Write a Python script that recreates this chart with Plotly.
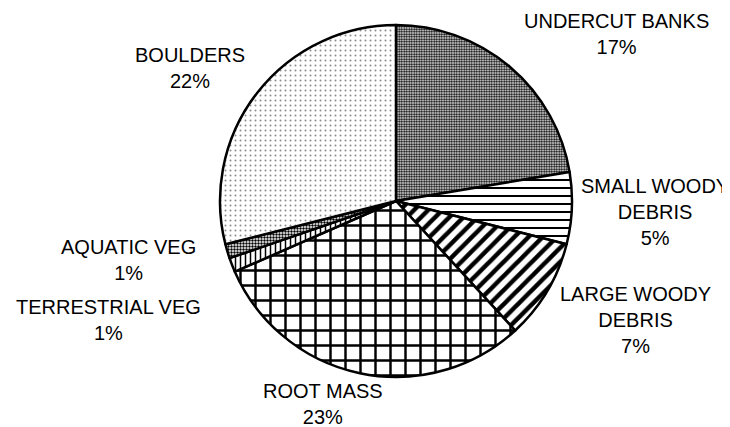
import plotly.graph_objects as go

categories = ["UNDERCUT BANKS", "SMALL WOODY<br>DEBRIS", "LARGE WOODY<br>DEBRIS",
              "ROOT MASS", "TERRESTRIAL VEG", "AQUATIC VEG", "BOULDERS"]
values = [17, 5, 7, 23, 1, 1, 22]
pct_labels = ["17%", "5%", "7%", "23%", "1%", "1%", "22%"]

# label centre positions in pixels (x, y from top)
label_pos = [(608, 26), (647, 204), (627, 312), (315, 396), (101, 312), (120, 252), (182, 60)]

shapes = [".", "-", "/", "+", "|", ".", "."]
fgcolors = ["black", "black", "black", "black", "black", "black", "#8a8a8a"]
sizes = [2.5, 8, 10, 15, 5, 3, 5]
solidities = [0.55, 0.25, 0.45, 0.3, 0.3, 0.5, 0.12]

W, H = 730, 427
cx, cy, r = 388, 193, 176
FONT = "Liberation Sans, Arial, sans-serif"

fig = go.Figure(go.Pie(
    labels=categories,
    values=values,
    textinfo="none",
    sort=False,
    direction="clockwise",
    rotation=0,
    showlegend=False,
    hoverinfo="label+value",
    marker=dict(
        colors=["white"] * len(values),
        line=dict(color="black", width=2.5),
        pattern=dict(shape=shapes, fgcolor=fgcolors, bgcolor=["white"] * len(values),
                     size=sizes, solidity=solidities, fillmode="replace"),
    ),
    domain=dict(x=[(cx - r) / W, (cx + r) / W], y=[1 - (cy + r) / H, 1 - (cy - r) / H]),
))

for cat, pct, (lx, ly) in zip(categories, pct_labels, label_pos):
    fig.add_annotation(
        x=lx / W, y=1 - ly / H, xref="paper", yref="paper",
        text=f"{cat}<br>{pct}", showarrow=False,
        xanchor="center", yanchor="middle", align="center",
        font=dict(family=FONT, size=20, color="black"),
    )

fig.update_layout(
    width=W, height=H,
    margin=dict(l=0, r=0, t=0, b=0),
    paper_bgcolor="white",
    plot_bgcolor="white",
)

fig.write_html("out.html")
